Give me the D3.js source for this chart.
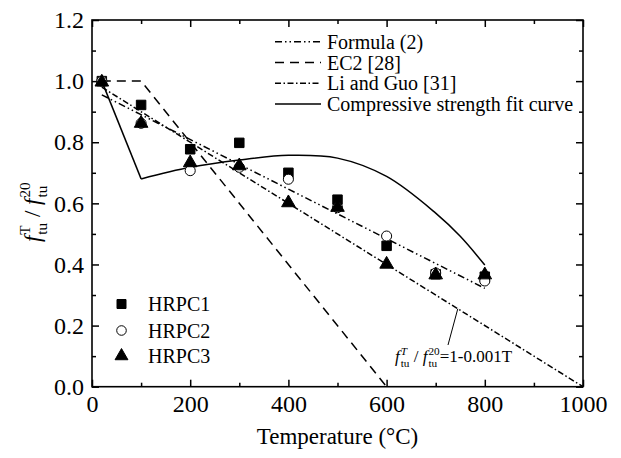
<!DOCTYPE html>
<html><head><meta charset="utf-8">
<script src="https://cdn.jsdelivr.net/npm/d3@7"></script>
<style>
body{margin:0;background:#fff}
text{font-family:"Liberation Serif","Times New Roman",serif;fill:#000}
</style>
</head><body><svg id="c" width="621" height="458"></svg>
<script>
// ---- data ----
const temps = [20, 100, 200, 300, 400, 500, 600, 700, 800];
const hrpc1 = [1.0, 0.922, 0.777, 0.798, 0.700, 0.612, 0.461, 0.368, 0.360];
const hrpc2 = [1.0, 0.862, 0.707, 0.718, 0.679, 0.586, 0.493, 0.372, 0.346];
const hrpc3 = [1.0, 0.865, 0.736, 0.726, 0.605, 0.590, 0.404, 0.369, 0.369];

const formulaT = [20, 800];
const formulaV = [0.955, 0.322];
const ec2T = [20, 100, 600];
const ec2V = [1.0, 1.0, 0.0];
const liGuoT = [20, 1000];
const liGuoV = [0.98, 0.0];
const fitT = [20, 100, 200, 300, 400, 500, 600, 700, 750, 800];
const fitV = [1.0, 0.68, 0.718, 0.742, 0.757, 0.748, 0.688, 0.568, 0.492, 0.398];

const xMajor = [0, 200, 400, 600, 800, 1000];
const xMinor = [100, 300, 500, 700, 900];
const yMajor = [0, 0.2, 0.4, 0.6, 0.8, 1.0, 1.2];
const yMinor = [0.1, 0.3, 0.5, 0.7, 0.9, 1.1];

const seriesNames = ["HRPC1", "HRPC2", "HRPC3"];
const lineNames = ["Formula (2)", "EC2 [28]", "Li and Guo [31]", "Compressive strength fit curve"];

// ---- layout ----
const L = 92, R = 583, T = 20, B = 386.7;
const svg = d3.select("#c");
const x = d3.scaleLinear().domain([0, 1000]).range([L, R]);
const y = d3.scaleLinear().domain([0, 1.2]).range([B, T]);

const dashFormula = "7,3,1.5,3,1.5,3";
const dashEC2 = "9,6";
const dashLi = "6,2.5,1.5,2.5";

// axes
function styleAxis(g) {
  g.select(".domain").remove();
  g.selectAll("line").attr("stroke", "#000").attr("stroke-width", 1.5);
  g.selectAll("text").style("font-family", '"Liberation Serif",serif').style("font-size", "24px").attr("fill", "#000");
}
svg.append("g").attr("transform", `translate(0,${B})`)
  .call(d3.axisBottom(x).tickValues(xMajor).tickSize(-7).tickPadding(8).tickFormat(d3.format("d"))).call(styleAxis);
svg.append("g").attr("transform", `translate(0,${B})`)
  .call(d3.axisBottom(x).tickValues(xMinor).tickSize(-4).tickFormat("")).call(styleAxis);
svg.append("g").attr("transform", `translate(0,${T})`)
  .call(d3.axisTop(x).tickValues(xMajor).tickSize(-7).tickFormat("")).call(styleAxis);
svg.append("g").attr("transform", `translate(0,${T})`)
  .call(d3.axisTop(x).tickValues(xMinor).tickSize(-4).tickFormat("")).call(styleAxis);
svg.append("g").attr("transform", `translate(${L},0)`)
  .call(d3.axisLeft(y).tickValues(yMajor).tickSize(-7).tickPadding(8).tickFormat(d3.format(".1f"))).call(styleAxis);
svg.append("g").attr("transform", `translate(${L},0)`)
  .call(d3.axisLeft(y).tickValues(yMinor).tickSize(-4).tickFormat("")).call(styleAxis);
svg.append("g").attr("transform", `translate(${R},0)`)
  .call(d3.axisRight(y).tickValues(yMajor).tickSize(-7).tickFormat("")).call(styleAxis);
svg.append("g").attr("transform", `translate(${R},0)`)
  .call(d3.axisRight(y).tickValues(yMinor).tickSize(-4).tickFormat("")).call(styleAxis);

svg.append("rect").attr("x", L).attr("y", T).attr("width", R - L).attr("height", B - T)
  .attr("fill", "none").attr("stroke", "#000").attr("stroke-width", 1.6);

// lines
const lineGen = d3.line().x(d => x(d[0])).y(d => y(d[1]));
const zip = (a, b) => a.map((v, i) => [v, b[i]]);
function drawLine(pts, dash, curve) {
  svg.append("path").datum(pts)
    .attr("d", lineGen.curve(curve || d3.curveLinear))
    .attr("fill", "none").attr("stroke", "#000").attr("stroke-width", 1.5)
    .attr("stroke-dasharray", dash || null);
}
drawLine(zip(formulaT, formulaV), dashFormula);
drawLine(zip(ec2T, ec2V), dashEC2);
drawLine(zip(liGuoT, liGuoV), dashLi);
const fitPts = zip(fitT, fitV);
drawLine(fitPts.slice(0, 2), null);
drawLine(fitPts.slice(1), null, d3.curveCatmullRom);

// markers
const sym = [d3.symbolSquare, d3.symbolCircle, d3.symbolTriangle];
const symSize = [90, 80, 80];
const fills = ["#000", "#fff", "#000"];
[hrpc1, hrpc2, hrpc3].forEach((vals, si) => {
  svg.append("g").selectAll("path").data(zip(temps, vals)).join("path")
    .attr("transform", d => `translate(${x(d[0])},${y(d[1]) + (si === 2 ? 1 : 0)})`)
    .attr("d", d3.symbol(sym[si], symSize[si]))
    .attr("fill", fills[si]).attr("stroke", "#000").attr("stroke-width", 1);
});

// line legend
const lgDash = [dashFormula, dashEC2, dashLi, null];
const lgY = [41.7, 62.5, 83.3, 104];
lineNames.forEach((n, i) => {
  svg.append("line").attr("x1", 275).attr("x2", 321).attr("y1", lgY[i]).attr("y2", lgY[i])
    .attr("stroke", "#000").attr("stroke-width", 1.5).attr("stroke-dasharray", lgDash[i]);
  svg.append("text").attr("x", 327).attr("y", lgY[i]).attr("dy", "0.35em")
    .style("font-size", "20px").text(n);
});

// marker legend
const mgY = [304, 330.5, 356];
seriesNames.forEach((n, i) => {
  svg.append("path").attr("transform", `translate(121.5,${mgY[i]})`)
    .attr("d", d3.symbol(sym[i], symSize[i] * 0.9))
    .attr("fill", fills[i]).attr("stroke", "#000").attr("stroke-width", 1);
  svg.append("text").attr("x", 148).attr("y", mgY[i]).attr("dy", "0.35em")
    .style("font-size", "20px").text(n);
});

// x title
svg.append("text").attr("x", (L + R) / 2).attr("y", 444).attr("text-anchor", "middle")
  .style("font-size", "23px").text("Temperature (°C)");

// helper to write f with stacked sub/sup
function fracLabel(t, size, supItalic) {
  const small = size * 0.66;
  function fpart(sup) {
    t.append("tspan").style("font-style", "italic").text("f");
    const s = t.append("tspan").style("font-size", small + "px").attr("dy", -size * 0.42).attr("dx", 1)
      .style("font-style", supItalic && sup === "T" ? "italic" : "normal").text(sup);
    const ws = s.node().getComputedTextLength();
    const b = t.append("tspan").style("font-size", small + "px").attr("dx", -ws).attr("dy", size * 0.72).text("tu");
    const wb = b.node().getComputedTextLength();
    return { ws, wb };
  }
  const a = fpart("T");
  t.append("tspan").attr("dy", -size * 0.30).attr("dx", Math.max(0, a.ws - a.wb)).text(" / ");
  const c = fpart("20");
  return Math.max(0, c.ws - c.wb);
}

// y title
const yt = svg.append("text").attr("transform", "translate(40,212) rotate(-90)")
  .attr("text-anchor", "middle").style("font-size", "23px");
fracLabel(yt, 23, false);
// recentre after build
{
  const bb = yt.node().getBBox();
  yt.attr("text-anchor", "start").attr("x", -bb.width / 2 - 0);
}

// annotation
const an = svg.append("text").attr("x", 395).attr("y", 362).style("font-size", "17px");
const extra = fracLabel(an, 17, true);
an.append("tspan").attr("dy", -17 * 0.30).attr("dx", extra).text("=1-0.001T");
svg.append("line").attr("x1", 448).attr("y1", 345).attr("x2", x(745)).attr("y2", y(1 - 0.001 * 745))
  .attr("stroke", "#000").attr("stroke-width", 1);
</script></body></html>
